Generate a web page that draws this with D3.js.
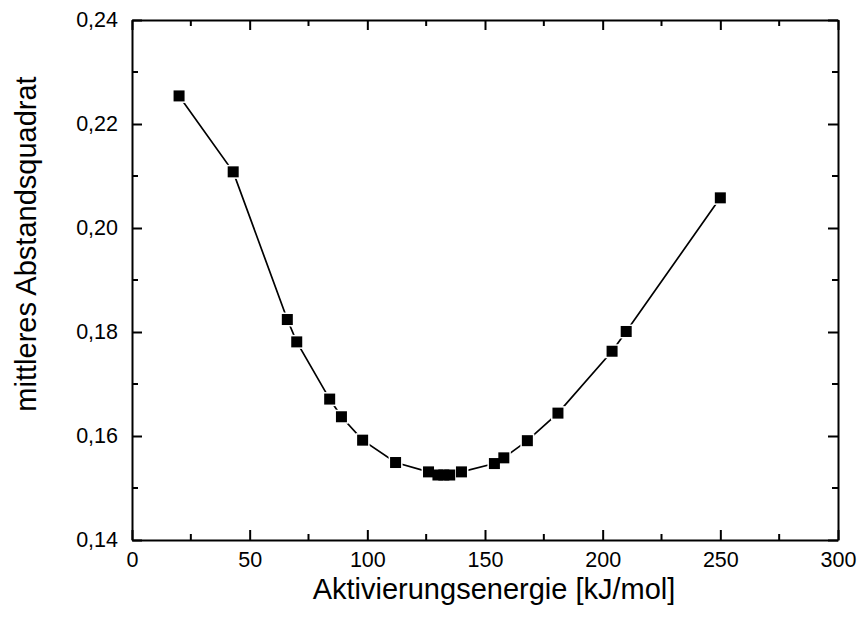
<!DOCTYPE html>
<html>
<head>
<meta charset="utf-8">
<script src="https://cdn.jsdelivr.net/npm/d3@7"></script>
<style>
  body { margin: 0; background: #fff; }
  svg { font-family: "Liberation Sans", Arial, sans-serif; }
</style>
</head>
<body>
<div id="container"></div>
<script>
/* DATA */
const energy = [20, 43, 66, 70, 84, 89, 98, 112, 126, 130, 132.5, 135, 140, 154, 158, 168, 181, 204, 210, 250]
const meanSq = [0.2254, 0.2108, 0.1824, 0.1781, 0.1671, 0.1637, 0.1592, 0.1549, 0.1531, 0.1525, 0.1525, 0.1525, 0.1531, 0.1547, 0.1558, 0.1591, 0.1644, 0.1763, 0.1801, 0.2058]
const xTicks = [0, 50, 100, 150, 200, 250, 300]
const yTicks = [0.14, 0.16, 0.18, 0.20, 0.22, 0.24]
const xLabel = "Aktivierungsenergie [kJ/mol]"
const yLabel = "mittleres Abstandsquadrat"

/* CONSTANTS */
const width = 859
const height = 621
const margin = { top: 20, bottom: 81, left: 132, right: 21 }

const data = energy.map((e, i) => ({ x: e, y: meanSq[i] }))

/* SCALES */
const xScale = d3.scaleLinear()
  .domain([0, 300])
  .range([margin.left, width - margin.right])

const yScale = d3.scaleLinear()
  .domain([0.14, 0.24])
  .range([height - margin.bottom, margin.top])

const fmt = d3.format(".2f")
const comma = d => fmt(d).replace(".", ",")

/* SVG */
const svg = d3.select("#container")
  .append("svg")
  .attr("width", width)
  .attr("height", height)

const minorX = d3.range(25, 300, 50)
const minorY = d3.range(0.15, 0.24, 0.02)

// axes: bottom / top / left / right, ticks pointing inward
function styleAxis(g) {
  g.select(".domain").attr("stroke", "#000").attr("stroke-width", 2)
  g.selectAll(".tick line").attr("stroke", "#000").attr("stroke-width", 2)
  g.selectAll("text").attr("font-size", 21.5).attr("fill", "#000")
}

const axBottom = svg.append("g")
  .attr("transform", `translate(0,${height - margin.bottom})`)
  .call(d3.axisBottom(xScale).tickValues(xTicks).tickSizeInner(-10).tickSizeOuter(0).tickPadding(12).tickFormat(d3.format("d")))
  .call(styleAxis)
axBottom.selectAll(".minor").data(minorX).join("line")
  .attr("x1", d => xScale(d)).attr("x2", d => xScale(d))
  .attr("y1", 0).attr("y2", -6)
  .attr("stroke", "#000").attr("stroke-width", 2)

const axTop = svg.append("g")
  .attr("transform", `translate(0,${margin.top})`)
  .call(d3.axisTop(xScale).tickValues(xTicks).tickSizeInner(-10).tickSizeOuter(0).tickFormat(""))
  .call(styleAxis)
axTop.selectAll(".minor").data(minorX).join("line")
  .attr("x1", d => xScale(d)).attr("x2", d => xScale(d))
  .attr("y1", 0).attr("y2", 6)
  .attr("stroke", "#000").attr("stroke-width", 2)

const axLeft = svg.append("g")
  .attr("transform", `translate(${margin.left},0)`)
  .call(d3.axisLeft(yScale).tickValues(yTicks).tickSizeInner(-10).tickSizeOuter(0).tickPadding(14).tickFormat(comma))
  .call(styleAxis)
axLeft.selectAll(".minor").data(minorY).join("line")
  .attr("y1", d => yScale(d)).attr("y2", d => yScale(d))
  .attr("x1", 0).attr("x2", 6)
  .attr("stroke", "#000").attr("stroke-width", 2)

const axRight = svg.append("g")
  .attr("transform", `translate(${width - margin.right},0)`)
  .call(d3.axisRight(yScale).tickValues(yTicks).tickSizeInner(-10).tickSizeOuter(0).tickFormat(""))
  .call(styleAxis)
axRight.selectAll(".minor").data(minorY).join("line")
  .attr("y1", d => yScale(d)).attr("y2", d => yScale(d))
  .attr("x1", 0).attr("x2", -6)
  .attr("stroke", "#000").attr("stroke-width", 2)

// axis titles
svg.append("text")
  .attr("x", 494)
  .attr("y", 599)
  .attr("text-anchor", "middle")
  .attr("font-size", 29)
  .text(xLabel)

svg.append("text")
  .attr("transform", `translate(36,244) rotate(-90)`)
  .attr("text-anchor", "middle")
  .attr("font-size", 29)
  .text(yLabel)

// line
const line = d3.line().x(d => xScale(d.x)).y(d => yScale(d.y))
svg.append("path")
  .datum(data)
  .attr("fill", "none")
  .attr("stroke", "#000")
  .attr("stroke-width", 1.7)
  .attr("d", line)

// markers (white halo gives the gap to the line)
const s = 11
svg.selectAll("rect.halo")
  .data(data)
  .join("rect")
  .attr("class", "halo")
  .attr("x", d => xScale(d.x) - s / 2 - 1.5)
  .attr("y", d => yScale(d.y) - s / 2 - 1.5)
  .attr("width", s + 3)
  .attr("height", s + 3)
  .attr("fill", "#fff")

svg.selectAll("rect.pt")
  .data(data)
  .join("rect")
  .attr("class", "pt")
  .attr("x", d => xScale(d.x) - s / 2)
  .attr("y", d => yScale(d.y) - s / 2)
  .attr("width", s)
  .attr("height", s)
  .attr("fill", "#000")
</script>
</body>
</html>
